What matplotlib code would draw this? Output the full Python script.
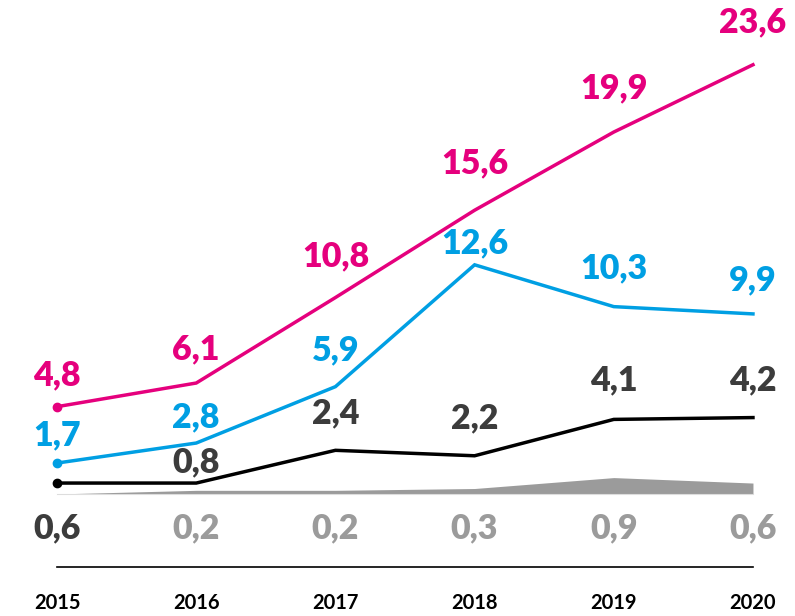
import matplotlib
matplotlib.use("Agg")
import matplotlib.pyplot as plt

years = [2015, 2016, 2017, 2018, 2019, 2020]
pink_vals = [4.8, 6.1, 10.8, 15.6, 19.9, 23.6]
blue_vals = [1.7, 2.8, 5.9, 12.6, 10.3, 9.9]
# the black line is drawn flat from 2015 to 2016 in the original
black_vals = [0.6, 0.6, 2.4, 2.1, 4.1, 4.2]
black_labels = ["0,6", "0,8", "2,4", "2,2", "4,1", "4,2"]
gray_vals = [0.0, 0.2, 0.2, 0.3, 0.9, 0.6]
bottom_labels = ["0,6", "0,2", "0,2", "0,3", "0,9", "0,6"]

PINK = "#E5007D"
BLUE = "#009FE3"
DARK = "#3c3c3c"
GRAY = "#9b9b9b"

# label offsets above points, in pixels
pink_off = [31, 34, 41, 47, 44, 42]
blue_off = [28, 26, 36, 21, 38, 34]
black_off = [0, 21, 37, 37, 39, 37]


def fmt(v):
    return f"{v:.1f}".replace(".", ",")


fig = plt.figure(figsize=(7.95, 6.16), dpi=100)
ax = fig.add_axes([0, 0, 1, 1])
ax.set_xlim(2014.59, 2020.302)
ax.set_ylim(-6.71, 27.16)
ax.axis("off")

ax.fill_between(years, 0, gray_vals, color=GRAY, linewidth=0, zorder=1)
ax.plot(years, [0] * len(years), color="#dddddd", linewidth=0.8, zorder=1)

for vals, col in [(pink_vals, PINK), (blue_vals, BLUE), (black_vals, "black")]:
    ax.plot(years, vals, color=col, linewidth=2.5, solid_joinstyle="miter", zorder=3)
    ax.plot(years[0], vals[0], "o", color=col, markersize=6, zorder=4)

font = dict(family=["Lato", "DejaVu Sans"], fontweight=800, fontsize=24.5,
            ha="center", va="center")

for x, v, o in zip(years, pink_vals, pink_off):
    ax.annotate(fmt(v), (x, v), xytext=(0, o), textcoords="offset pixels",
                color=PINK, **font)
for x, v, o in zip(years, blue_vals, blue_off):
    ax.annotate(fmt(v), (x, v), xytext=(0, o), textcoords="offset pixels",
                color=BLUE, **font)
for x, v, lab, o in zip(years[1:], black_vals[1:], black_labels[1:], black_off[1:]):
    ax.annotate(lab, (x, v), xytext=(0, o), textcoords="offset pixels",
                color=DARK, **font)

for i, (x, lab) in enumerate(zip(years, bottom_labels)):
    ax.text(x, -1.87, lab, color=DARK if i == 0 else GRAY, **font)

ax.plot([years[0], years[-1]], [-4.01, -4.01], color="black", linewidth=1.2)

for x in years:
    ax.text(x, -5.99, str(x), family=["Lato", "DejaVu Sans"], fontweight="bold",
            fontsize=14.5, ha="center", va="center", color="black")

fig.savefig("out.png", dpi=100)
